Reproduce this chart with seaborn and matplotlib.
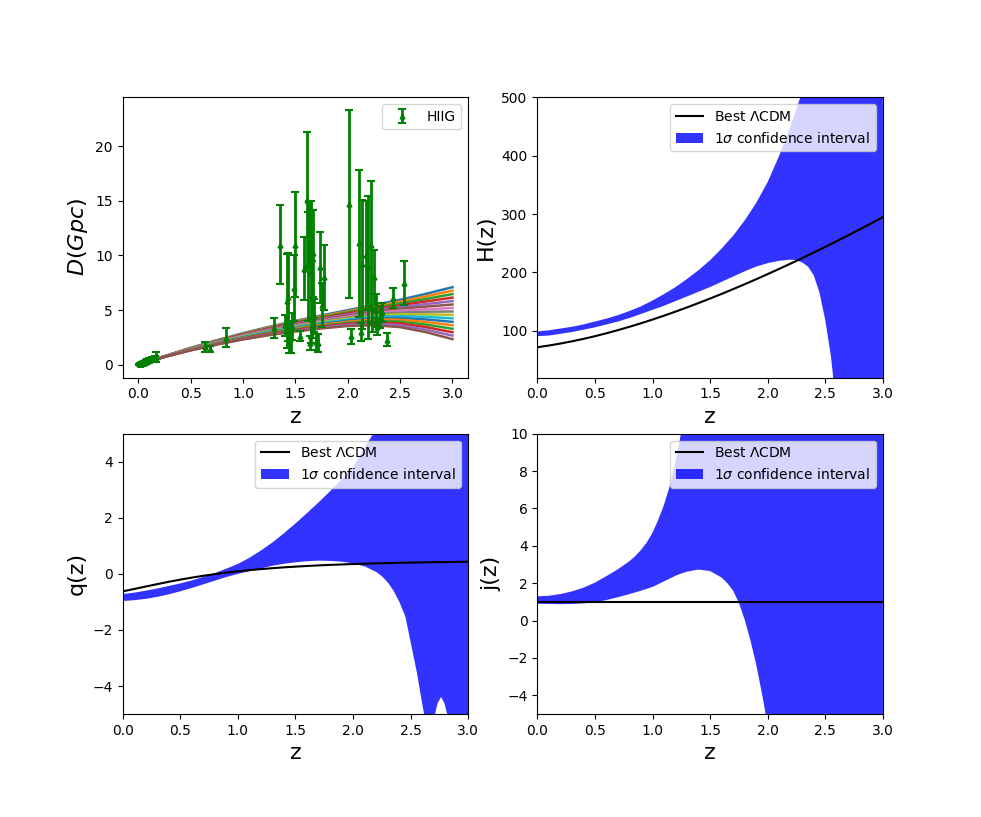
import numpy as np
import pandas as pd
import seaborn as sns
import matplotlib.pyplot as plt

# ---- HIIG distance data (z, D in Gpc, 1 sigma error) ----
z_hiig = [0.010, 0.013, 0.016, 0.019, 0.022, 0.025, 0.028, 0.031, 0.034, 0.037,
          0.040, 0.043, 0.046, 0.050, 0.054, 0.058, 0.062, 0.066, 0.070, 0.075,
          0.080, 0.086, 0.092, 0.098, 0.105, 0.112, 0.120, 0.128, 0.136, 0.145,
          0.155, 0.165,
          0.64, 0.68, 0.84, 1.30, 1.35, 1.40, 1.42, 1.43, 1.44, 1.46, 1.47, 1.49,
          1.50, 1.54, 1.58, 1.61, 1.62, 1.63, 1.64, 1.65, 1.66, 1.67, 1.68, 1.70,
          1.72, 1.73, 1.75, 1.77, 2.01, 2.03, 2.11, 2.13, 2.14, 2.17, 2.19, 2.22,
          2.23, 2.25, 2.27, 2.28, 2.31, 2.33, 2.37, 2.43, 2.54]
d_hiig = [0.04, 0.06, 0.07, 0.08, 0.10, 0.10, 0.12, 0.13, 0.15, 0.15,
          0.17, 0.18, 0.20, 0.21, 0.23, 0.24, 0.27, 0.27, 0.30, 0.31,
          0.34, 0.35, 0.38, 0.40, 0.44, 0.45, 0.49, 0.51, 0.55, 0.58,
          0.62, 0.75,
          1.60, 1.45, 2.50, 3.35, 11.0, 3.60, 5.80, 6.20, 2.00, 2.50, 3.50, 7.00,
          11.0, 2.60, 8.80, 15.1, 9.00, 12.0, 2.00, 8.50, 6.00, 10.2, 4.50, 2.10,
          2.00, 8.90, 5.50, 8.00, 14.7, 2.60, 11.1, 3.00, 9.20, 10.0, 8.90, 11.0,
          4.00, 8.00, 5.00, 3.50, 4.40, 4.80, 2.30, 6.10, 7.50]
e_hiig = [0.03, 0.04, 0.05, 0.05, 0.06, 0.06, 0.07, 0.07, 0.08, 0.08,
          0.08, 0.09, 0.09, 0.10, 0.10, 0.11, 0.11, 0.12, 0.12, 0.13,
          0.13, 0.14, 0.14, 0.15, 0.15, 0.16, 0.16, 0.17, 0.17, 0.18,
          0.20, 0.45,
          0.45, 0.30, 0.85, 0.90, 3.60, 1.00, 4.30, 4.00, 0.90, 1.40, 1.20, 3.00,
          4.80, 0.45, 2.90, 6.20, 5.00, 3.00, 0.60, 6.50, 3.50, 4.00, 1.50, 0.70,
          0.80, 3.20, 2.00, 3.00, 8.60, 0.70, 6.70, 0.80, 5.90, 5.00, 6.50, 5.80,
          1.00, 2.50, 1.50, 0.80, 1.00, 0.90, 0.60, 0.90, 2.00]

# ---- reconstructed D(z) curves ----
z_curve = [0.0, 0.25, 0.5, 0.75, 1.0, 1.25, 1.5, 1.75, 2.0, 2.25, 2.5, 2.75, 3.0]
d_curves = [
    [0, 0.80, 1.55, 2.25, 2.90, 3.48, 4.02, 4.52, 5.00, 5.46, 5.95, 6.50, 7.10],
    [0, 0.79, 1.53, 2.22, 2.86, 3.43, 3.96, 4.44, 4.90, 5.34, 5.78, 6.27, 6.78],
    [0, 0.79, 1.52, 2.20, 2.82, 3.38, 3.89, 4.36, 4.81, 5.22, 5.62, 6.03, 6.47],
    [0, 0.78, 1.50, 2.17, 2.78, 3.33, 3.83, 4.28, 4.71, 5.10, 5.45, 5.80, 6.15],
    [0, 0.78, 1.49, 2.14, 2.75, 3.28, 3.76, 4.20, 4.61, 4.98, 5.28, 5.56, 5.83],
    [0, 0.77, 1.47, 2.12, 2.71, 3.23, 3.70, 4.12, 4.52, 4.86, 5.12, 5.33, 5.52],
    [0, 0.77, 1.46, 2.09, 2.67, 3.18, 3.63, 4.04, 4.42, 4.74, 4.95, 5.09, 5.20],
    [0, 0.76, 1.44, 2.06, 2.63, 3.13, 3.57, 3.97, 4.32, 4.63, 4.78, 4.86, 4.88],
    [0, 0.76, 1.43, 2.04, 2.59, 3.07, 3.50, 3.89, 4.23, 4.51, 4.62, 4.62, 4.57],
    [0, 0.75, 1.41, 2.01, 2.55, 3.02, 3.44, 3.81, 4.13, 4.39, 4.45, 4.39, 4.25],
    [0, 0.75, 1.40, 1.98, 2.51, 2.97, 3.37, 3.73, 4.03, 4.27, 4.28, 4.15, 3.93],
    [0, 0.74, 1.38, 1.96, 2.47, 2.92, 3.31, 3.65, 3.94, 4.15, 4.12, 3.92, 3.62],
    [0, 0.74, 1.37, 1.93, 2.44, 2.87, 3.24, 3.57, 3.84, 4.03, 3.95, 3.68, 3.30],
    [0, 0.73, 1.35, 1.90, 2.40, 2.82, 3.18, 3.49, 3.74, 3.91, 3.78, 3.45, 2.98],
    [0, 0.73, 1.34, 1.88, 2.36, 2.77, 3.11, 3.41, 3.65, 3.79, 3.62, 3.21, 2.67],
    [0, 0.72, 1.32, 1.85, 2.32, 2.72, 3.05, 3.33, 3.55, 3.62, 3.45, 2.98, 2.35],
]

# ---- H(z) ----
z_h = [0.0, 0.1, 0.2, 0.3, 0.4, 0.5, 0.6, 0.7, 0.8, 0.9, 1.0, 1.1, 1.2, 1.3,
       1.4, 1.5, 1.6, 1.7, 1.8, 1.9, 2.0, 2.1, 2.2, 2.25, 2.3, 2.35, 2.4, 2.45,
       2.5, 2.55, 2.6, 2.7, 2.8, 2.9, 3.0]
h_best = [72.0, 74.9, 78.3, 82.1, 86.3, 90.9, 95.9, 101.3, 107.0, 113.0, 119.4,
          126.0, 133.0, 140.2, 147.7, 155.4, 163.3, 171.5, 179.8, 188.4, 197.2,
          206.2, 215.3, 219.9, 224.6, 229.4, 234.2, 239.0, 243.8, 248.7, 253.7,
          263.7, 273.9, 284.2, 294.7]
h_upper = [99, 101, 104, 107, 111, 116, 121, 127, 134, 142, 152, 163, 175, 189,
           204, 221, 241, 263, 289, 319, 355, 400, 452, 480, 510, 541, 573, 605,
           640, 680, 720, 800, 890, 990, 1100]
h_lower = [91, 92, 95, 98, 102, 106, 111, 116, 122, 129, 136, 143, 151, 159,
           167, 175, 184, 193, 202, 210, 216, 220, 222, 221, 217, 210, 195, 165,
           118, 55, -40, -300, -650, -1100, -1700]

# ---- q(z) ----
z_q = [0.0, 0.1, 0.2, 0.3, 0.4, 0.5, 0.6, 0.7, 0.8, 0.9, 1.0, 1.1, 1.2, 1.3,
       1.4, 1.5, 1.6, 1.7, 1.8, 1.9, 2.0, 2.1, 2.2, 2.25, 2.3, 2.35, 2.4, 2.45,
       2.5, 2.55, 2.6, 2.65, 2.7, 2.73, 2.76, 2.79, 2.82, 2.9, 3.0]
q_best = [-0.625, -0.539, -0.452, -0.366, -0.283, -0.206, -0.134, -0.069,
          -0.010, 0.044, 0.091, 0.133, 0.170, 0.203, 0.233, 0.258, 0.281, 0.302,
          0.320, 0.336, 0.350, 0.363, 0.374, 0.379, 0.384, 0.389, 0.394, 0.398,
          0.402, 0.406, 0.409, 0.413, 0.416, 0.418, 0.420, 0.421, 0.423, 0.428,
          0.433]
q_upper = [-0.70, -0.65, -0.58, -0.50, -0.41, -0.32, -0.21, -0.09, 0.05, 0.21,
           0.38, 0.60, 0.86, 1.15, 1.48, 1.83, 2.20, 2.58, 2.98, 3.40, 3.85,
           4.55, 5.20, 5.50, 5.80, 6.10, 6.50, 6.90, 7.30, 7.70, 8.10, 8.50,
           9.00, 9.20, 9.50, 9.70, 10.0, 10.6, 11.5]
q_lower = [-0.95, -0.92, -0.87, -0.80, -0.71, -0.60, -0.48, -0.35, -0.22, -0.09,
           0.02, 0.12, 0.22, 0.31, 0.38, 0.43, 0.47, 0.49, 0.48, 0.45, 0.39,
           0.28, 0.08, -0.08, -0.30, -0.60, -1.00, -1.50, -2.50, -3.50, -4.70,
           -5.80, -5.10, -4.60, -4.37, -4.60, -5.10, -6.50, -8.00]

# ---- j(z) ----
z_j = [0.0, 0.1, 0.2, 0.3, 0.4, 0.5, 0.6, 0.7, 0.8, 0.85, 0.9, 0.95, 1.0,
       1.05, 1.1, 1.15, 1.2, 1.25, 1.3, 1.4, 1.5, 1.6, 1.65, 1.7, 1.75, 1.8,
       1.85, 1.9, 1.95, 2.0, 2.1, 2.2, 2.4, 2.6, 2.8, 3.0]
j_best = [1.0] * len(z_j)
j_upper = [1.30, 1.33, 1.42, 1.56, 1.76, 2.03, 2.38, 2.75, 3.18, 3.45, 3.78,
           4.18, 4.70, 5.40, 6.20, 7.20, 8.50, 10.1, 12.0, 16.5, 22.0, 29.0,
           33.0, 37.0, 41.0, 46.0, 51.0, 56.0, 62.0, 68.0, 80.0, 93.0, 122,
           155, 192, 233]
j_lower = [0.90, 0.89, 0.88, 0.89, 0.92, 0.98, 1.10, 1.25, 1.42, 1.51, 1.60,
           1.70, 1.80, 1.95, 2.10, 2.25, 2.40, 2.52, 2.62, 2.73, 2.65, 2.30,
           2.00, 1.60, 0.95, 0.05, -1.05, -2.35, -3.90, -5.60, -10.0, -16.0,
           -31.0, -50.0, -73.0, -100.0]

band_label = '$1\\sigma$ confidence interval'
best_label = 'Best $\\Lambda$CDM'

fig, axes = plt.subplots(2, 2, figsize=(9.81, 8.17), dpi=100)
fig.subplots_adjust(left=0.125, right=0.9, bottom=0.126, top=0.881,
                    wspace=0.2, hspace=0.2)

# top left: D(z)
ax = axes[0, 0]
curves_df = pd.DataFrame({
    'z': np.tile(z_curve, len(d_curves)),
    'D': np.concatenate(d_curves),
    'curve': np.repeat(np.arange(len(d_curves)), len(z_curve)),
})
sns.lineplot(data=curves_df, x='z', y='D', hue='curve',
             palette=sns.color_palette('tab10', len(d_curves)),
             legend=False, linewidth=1.8, ax=ax)
ax.errorbar(z_hiig, d_hiig, yerr=e_hiig, fmt='^', color='green',
            markersize=3.5, elinewidth=2, capsize=3, capthick=1.5,
            label='HIIG', zorder=3)
ax.set_xlabel('z', fontsize=16)
ax.set_ylabel('$D(Gpc)$', fontsize=16)
ax.legend(loc='upper right')


def band_panel(ax, z, best, lower, upper, ylabel, ylim):
    line = sns.lineplot(x=z, y=best, color='black', linewidth=1.5,
                        ax=ax).lines[-1]
    fill = ax.fill_between(z, lower, upper, color='blue', alpha=0.8,
                           linewidth=0)
    ax.set_xlim(0, 3)
    ax.set_ylim(*ylim)
    ax.set_xlabel('z', fontsize=16)
    ax.set_ylabel(ylabel, fontsize=16)
    ax.legend([line, fill], [best_label, band_label], loc='upper right')


band_panel(axes[0, 1], z_h, h_best, h_lower, h_upper, 'H(z)', (20, 500))
band_panel(axes[1, 0], z_q, q_best, q_lower, q_upper, 'q(z)', (-5, 5))
band_panel(axes[1, 1], z_j, j_best, j_lower, j_upper, 'j(z)', (-5, 10))

fig.savefig('out.png', dpi=100)
